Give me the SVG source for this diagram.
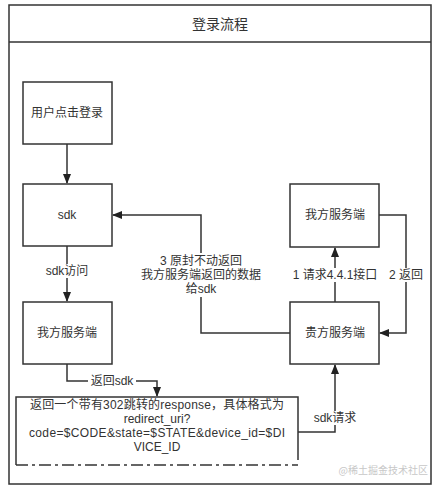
<svg xmlns="http://www.w3.org/2000/svg" width="442" height="492" viewBox="0 0 442 492">
<defs>
<marker id="ah" markerWidth="10" markerHeight="10" refX="9" refY="5" orient="auto" markerUnits="userSpaceOnUse">
<path d="M0,1 L10,5 L0,9 Z" fill="#222"/>
</marker>
<style>
.box{fill:#fff;stroke:#333;stroke-width:1.5}
.t{font-family:"Liberation Sans","Noto Sans CJK SC",sans-serif;font-size:12px;fill:#333;text-anchor:middle;dominant-baseline:central}
.e{fill:none;stroke:#333;stroke-width:1.5}
.lb{fill:#fff}
</style>
</defs>
<rect width="442" height="492" fill="#fff"/>
<g id="frame">
<rect x="9" y="5" width="422" height="479" fill="none" stroke="#333" stroke-width="1.5"/>
<line x1="9" y1="42" x2="431" y2="42" stroke="#333" stroke-width="1.5"/>
<text class="t" x="220" y="24" style="font-size:14px">登录流程</text>
</g>
<g id="edges">
<path class="e" d="M67,144 L67,183" marker-end="url(#ah)"/>
<path class="e" d="M67,246 L67,301" marker-end="url(#ah)"/>
<rect class="lb" x="44" y="264" width="46" height="14"/>
<text class="t" x="67" y="271">sdk访问</text>
<path class="e" d="M290,333 L201,333 L201,215 L113,215" marker-end="url(#ah)"/>
<rect class="lb" x="140" y="253" width="122" height="44"/>
<text class="t" x="201" y="261">3 原封不动返回</text>
<text class="t" x="201" y="275">我方服务端返回的数据</text>
<text class="t" x="201" y="289">给sdk</text>
<path class="e" d="M335,302 L335,248" marker-end="url(#ah)"/>
<rect class="lb" x="288" y="268" width="94" height="14"/>
<text class="t" x="335" y="275">1 请求4.4.1接口</text>
<path class="e" d="M379,215 L406,215 L406,333 L380,333" marker-end="url(#ah)"/>
<rect class="lb" x="388" y="268" width="36" height="14"/>
<text class="t" x="406" y="275">2 返回</text>
<path class="e" d="M67,364 L67,381 L157,381 L157,396" marker-end="url(#ah)"/>
<rect class="lb" x="88" y="374" width="48" height="14"/>
<text class="t" x="112" y="381">返回sdk</text>
<path class="e" d="M298,432 L335,432 L335,365" marker-end="url(#ah)"/>
<rect class="lb" x="312" y="411" width="46" height="14"/>
<text class="t" x="335" y="418">sdk请求</text>
</g>
<g id="n_user">
<rect class="box" x="23" y="82" width="89" height="62"/>
<text class="t" x="67" y="113">用户点击登录</text>
</g>
<g id="n_sdk">
<rect class="box" x="23" y="184" width="89" height="62"/>
<text class="t" x="67" y="215">sdk</text>
</g>
<g id="n_our_left">
<rect class="box" x="23" y="302" width="89" height="62"/>
<text class="t" x="67" y="333">我方服务端</text>
</g>
<g id="n_our_right">
<rect class="box" x="290" y="184" width="89" height="63"/>
<text class="t" x="335" y="215">我方服务端</text>
</g>
<g id="n_your">
<rect class="box" x="290" y="302" width="89" height="62"/>
<text class="t" x="335" y="333">贵方服务端</text>
</g>
<g id="n_response">
<rect x="16" y="397" width="282" height="68" fill="#fff"/>
<path d="M16,465 L16,397 L298,397 L298,460" fill="none" stroke="#333" stroke-width="1.5"/>
<line x1="16" y1="465" x2="298" y2="465" stroke="#333" stroke-width="1.5" stroke-dasharray="12,4,3,4"/>
<text class="t" x="157" y="405" textLength="254" lengthAdjust="spacing">返回一个带有302跳转的response，具体格式为</text>
<text class="t" x="157" y="419">redirect_uri?</text>
<text class="t" x="157" y="433" textLength="256" lengthAdjust="spacing">code=$CODE&amp;state=$STATE&amp;device_id=$DI</text>
<text class="t" x="157" y="447">VICE_ID</text>
</g>
<text x="428" y="474" text-anchor="end" style="font-family:'Noto Sans CJK SC',sans-serif;font-size:10px;fill:#c8c8c8">@稀土掘金技术社区</text>
</svg>
